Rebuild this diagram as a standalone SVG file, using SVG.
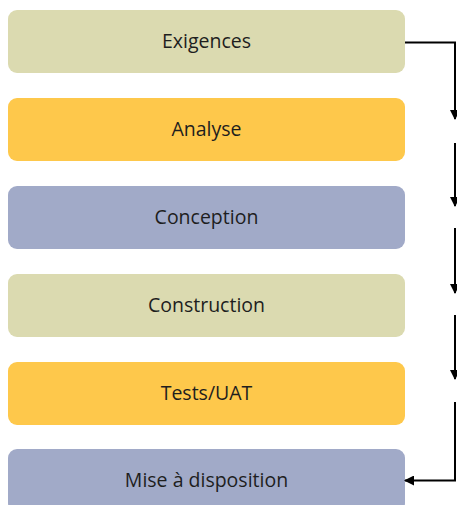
<svg xmlns="http://www.w3.org/2000/svg" width="457" height="505" viewBox="0 0 457 505">
  <style>
    .box { stroke: none; }
    .olive { fill: #DBDAB0; }
    .amber { fill: #FEC84B; }
    .slate { fill: #A1AAC8; }
    .label { font-family: "Open Sans", "Noto Sans", "Liberation Sans", sans-serif; font-size: 19.5px; fill: #1E1E1E; text-anchor: middle; }
    .conn { fill: none; stroke: #000000; stroke-width: 2; }
  </style>
  <defs>
    <marker id="arrow" viewBox="0 0 10 10" refX="9" refY="5" markerWidth="5.5" markerHeight="5" orient="auto" markerUnits="strokeWidth">
      <path d="M0,0 L10,5 L0,10 Z" fill="#000000"/>
    </marker>
  </defs>
  <rect width="457" height="505" fill="#FFFFFF"/>

  <g id="node-exigences">
    <rect class="box olive" x="8" y="10" width="397" height="63" rx="9"/>
    <text class="label" x="206.5" y="48">Exigences</text>
  </g>
  <g id="node-analyse">
    <rect class="box amber" x="8" y="98" width="397" height="63" rx="9"/>
    <text class="label" x="206.5" y="136">Analyse</text>
  </g>
  <g id="node-conception">
    <rect class="box slate" x="8" y="186" width="397" height="63" rx="9"/>
    <text class="label" x="206.5" y="224">Conception</text>
  </g>
  <g id="node-construction">
    <rect class="box olive" x="8" y="274" width="397" height="63" rx="9"/>
    <text class="label" x="206.5" y="312">Construction</text>
  </g>
  <g id="node-tests">
    <rect class="box amber" x="8" y="362" width="397" height="63" rx="9"/>
    <text class="label" x="206.5" y="400">Tests/UAT</text>
  </g>
  <g id="node-mise">
    <rect class="box slate" x="8" y="449" width="397" height="63" rx="9"/>
    <text class="label" x="206.5" y="487">Mise à disposition</text>
  </g>

  <g id="connectors">
    <path class="conn" d="M405,42.5 H455 V119" marker-end="url(#arrow)"/>
    <path class="conn" d="M455,143 V206" marker-end="url(#arrow)"/>
    <path class="conn" d="M455,228 V293" marker-end="url(#arrow)"/>
    <path class="conn" d="M455,315 V379" marker-end="url(#arrow)"/>
    <path class="conn" d="M455,402 V480.5 H405" marker-end="url(#arrow)"/>
  </g>
</svg>
